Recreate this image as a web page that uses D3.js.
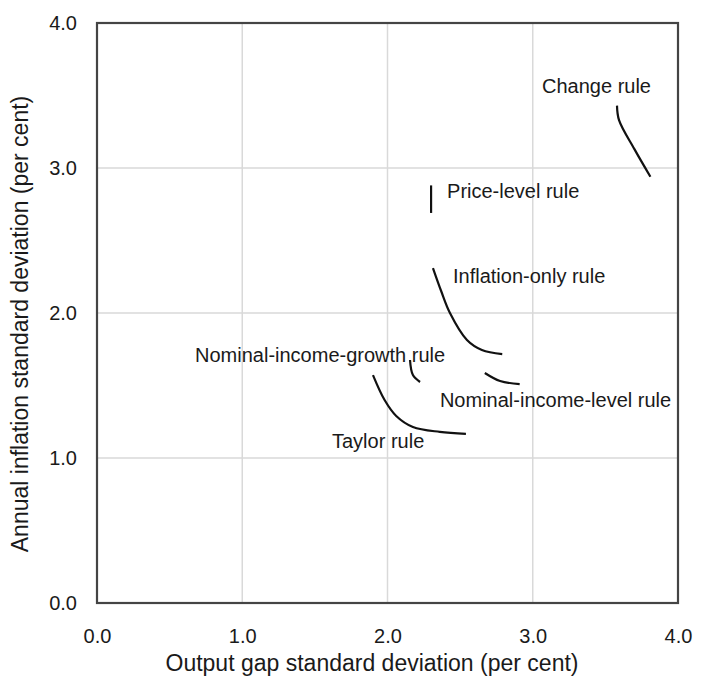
<!DOCTYPE html>
<html lang="en">
<head>
  <meta charset="utf-8">
  <title>Policy rule frontiers</title>
  <script src="https://cdnjs.cloudflare.com/ajax/libs/d3/7.8.5/d3.min.js"></script>
  <style>
    html, body { margin: 0; padding: 0; background: #fff; }
    text { font-family: "Liberation Sans", Arial, sans-serif; fill: #1a1a1a; }
    .grid line { stroke: #d9d9d9; stroke-width: 1.5; }
    .curve { fill: none; stroke: #111; stroke-width: 2.2; }
  </style>
</head>
<body>
<svg id="chart" width="701" height="677"></svg>
<script>
  // tick values on both axes
  var xTicks = [0, 1, 2, 3, 4];
  var yTicks = [0, 1, 2, 3, 4];

  // each rule: [output gap sd, inflation sd]
  var changeRule = [[3.58, 3.43], [3.594, 3.33], [3.70, 3.13], [3.81, 2.94]];
  var priceLevelRule = [[2.30, 2.88], [2.30, 2.69]];
  var inflationOnlyRule = [[2.313, 2.31], [2.37, 2.15], [2.43, 2.0], [2.547, 1.814], [2.65, 1.745], [2.79, 1.717]];
  var nomIncomeGrowthRule = [[2.155, 1.676], [2.175, 1.572], [2.224, 1.524]];
  var nomIncomeLevelRule = [[2.67, 1.586], [2.775, 1.531], [2.91, 1.51]];
  var taylorRule = [[1.90, 1.572], [1.98, 1.40], [2.06, 1.29], [2.175, 1.214], [2.36, 1.18], [2.54, 1.166]];

  var ruleNames = ["Change rule", "Price-level rule", "Inflation-only rule",
                   "Nominal-income-growth rule", "Nominal-income-level rule", "Taylor rule"];
  var ruleData = [changeRule, priceLevelRule, inflationOnlyRule,
                  nomIncomeGrowthRule, nomIncomeLevelRule, taylorRule];
  // where each label sits, in data units (left edge, baseline)
  var labelAt = [[3.064, 3.517], [2.41, 2.793], [2.451, 2.207],
                 [0.675, 1.662], [2.361, 1.352], [1.618, 1.069]];

  var margin = {top: 23, left: 97},
      width = 581, height = 580;

  var svg = d3.select("#chart");
  var g = svg.append("g").attr("transform", "translate(" + margin.left + "," + margin.top + ")");

  var x = d3.scaleLinear().domain([0, 4]).range([0, width]);
  var y = d3.scaleLinear().domain([0, 4]).range([height, 0]);

  // gridlines
  var grid = g.append("g").attr("class", "grid");
  grid.selectAll(".vx").data(xTicks.slice(1, -1)).enter().append("line")
    .attr("x1", d => x(d)).attr("x2", d => x(d))
    .attr("y1", 0).attr("y2", height);
  grid.selectAll(".hy").data(yTicks.slice(1, -1)).enter().append("line")
    .attr("y1", d => y(d)).attr("y2", d => y(d))
    .attr("x1", 0).attr("x2", width);

  // frame
  g.append("rect").attr("x", 0).attr("y", 0).attr("width", width).attr("height", height)
    .attr("fill", "none").attr("stroke", "#444").attr("stroke-width", 2.2);

  // axes (labels only, no tick marks)
  var xAxis = g.append("g").attr("transform", "translate(0," + height + ")")
    .call(d3.axisBottom(x).tickValues(xTicks).tickFormat(d3.format(".1f")).tickSize(0).tickPadding(26));
  var yAxis = g.append("g")
    .call(d3.axisLeft(y).tickValues(yTicks).tickFormat(d3.format(".1f")).tickSize(0).tickPadding(20));
  [xAxis, yAxis].forEach(a => {
    a.select(".domain").remove();
    a.selectAll("text").style("font-size", "20px").attr("fill", "#1a1a1a")
      .style("font-family", "'Liberation Sans', Arial, sans-serif");
  });

  // curves
  var line = d3.line().x(d => x(d[0])).y(d => y(d[1])).curve(d3.curveCatmullRom);
  g.selectAll(".curve").data(ruleData).enter().append("path")
    .attr("class", "curve").attr("d", line);

  // rule labels
  g.selectAll(".lbl").data(ruleNames).enter().append("text")
    .attr("x", (d, i) => x(labelAt[i][0]))
    .attr("y", (d, i) => y(labelAt[i][1]))
    .style("font-size", "20px")
    .text(d => d);

  // axis titles
  svg.append("text").attr("x", 372).attr("y", 671).attr("text-anchor", "middle")
    .style("font-size", "23px").text("Output gap standard deviation (per cent)");
  svg.append("text").attr("transform", "translate(28,324) rotate(-90)").attr("text-anchor", "middle")
    .style("font-size", "23px").text("Annual inflation standard deviation (per cent)");
</script>
</body>
</html>
